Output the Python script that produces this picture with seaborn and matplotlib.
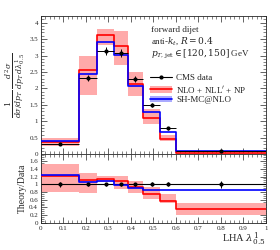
import matplotlib
matplotlib.use('Agg')
import matplotlib.pyplot as plt
import seaborn as sns
import numpy as np
from matplotlib.lines import Line2D
from matplotlib.patches import Patch

# bin edges of LHA lambda^1_0.5
edges = [0.0, 0.17, 0.25, 0.325, 0.385, 0.455, 0.53, 0.60, 1.0]

# CMS data
data = [0.315, 2.32, 3.15, 3.07, 2.28, 1.50, 0.79, 0.105]
data_err = [0.02, 0.10, 0.12, 0.12, 0.10, 0.07, 0.04, 0.01]

# NLO + NLL' + NP with uncertainty band
nlo = [0.385, 2.55, 3.62, 3.30, 2.12, 1.11, 0.45, 0.037]
nlo_lo = [0.25, 1.80, 3.32, 2.72, 1.78, 0.93, 0.40, 0.021]
nlo_hi = [0.48, 2.98, 3.80, 3.75, 2.50, 1.38, 0.60, 0.053]

# SH-MC@NLO
mcnlo = [0.39, 2.45, 3.40, 3.03, 2.08, 1.27, 0.67, 0.090]

RED = '#ff0000'
PINK = '#ffaaaa'
BLUE = '#0000ff'
LW = 1.2

sns.set_style("ticks")
plt.rcParams['font.family'] = ['Liberation Serif', 'DejaVu Serif']
plt.rcParams['mathtext.fontset'] = 'dejavuserif'

edges = np.array(edges)
centers = 0.5 * (edges[:-1] + edges[1:])
half_w = 0.5 * np.diff(edges)
data = np.array(data)


def steps(vals):
    return np.append(vals, vals[-1])


fig = plt.figure(figsize=(2.8, 2.5), dpi=100)
ax = fig.add_axes([0.146, 0.383, 0.804, 0.553])
rax = fig.add_axes([0.146, 0.109, 0.804, 0.274], sharex=ax)

# main panel
ax.fill_between(edges, steps(nlo_lo), steps(nlo_hi), step='post',
                color=PINK, lw=0, zorder=1)
sns.lineplot(x=edges, y=steps(nlo), drawstyle='steps-post', color=RED,
             lw=LW, ax=ax, zorder=2)
sns.lineplot(x=edges, y=steps(mcnlo), drawstyle='steps-post', color=BLUE,
             lw=LW, ax=ax, zorder=3)
ax.errorbar(centers, data, xerr=half_w, yerr=data_err, fmt='o', color='black',
            ms=2, lw=0.7, capsize=0, zorder=4)

ax.set_xlim(0, 1)
ax.set_ylim(0, 4.2)
ax.set_yticks(np.arange(0, 4.01, 0.5))
ax.set_yticklabels(['0', '0.5', '1', '1.5', '2', '2.5', '3', '3.5', '4'])
ax.set_ylabel(r'$\frac{1}{d\sigma/dp_T}\,\frac{d^2\sigma}{dp_T\,d\lambda^1_{0.5}}$',
              fontsize=8, labelpad=2)
ax.tick_params(labelbottom=False)

ax.text(0.49, 0.93, 'forward dijet\nanti-$k_t$, $R = 0.4$\n'
        r'$p_{T,\mathrm{jet}} \in [120, 150]$ GeV',
        transform=ax.transAxes, fontsize=6.5, va='top', ha='left',
        linespacing=1.15)

handles = [
    Line2D([], [], color='black', marker='o', ms=2, lw=0.8),
    (Patch(color=PINK, lw=0), Line2D([], [], color=RED, lw=LW)),
    (Patch(color='#aaaaff', lw=0), Line2D([], [], color=BLUE, lw=LW)),
]
labels = ['CMS data', r"NLO + NLL$'$ + NP", 'SH-MC@NLO']
ax.legend(handles, labels, loc='upper left', bbox_to_anchor=(0.46, 0.62),
          frameon=False, fontsize=6.5, handlelength=2.4, handletextpad=0.5,
          borderpad=0.1, labelspacing=0.15)

# ratio panel
rax.fill_between(edges, steps(np.array(nlo_lo) / data),
                 steps(np.array(nlo_hi) / data), step='post',
                 color=PINK, lw=0, zorder=1)
rax.axhline(1.0, color='black', lw=0.8, zorder=2)
sns.lineplot(x=edges, y=steps(np.array(nlo) / data), drawstyle='steps-post',
             color=RED, lw=LW, ax=rax, zorder=3)
sns.lineplot(x=edges, y=steps(np.array(mcnlo) / data), drawstyle='steps-post',
             color=BLUE, lw=LW, ax=rax, zorder=4)
rax.errorbar(centers, np.ones_like(data), yerr=np.array(data_err) / data,
             fmt='o', color='black', ms=2, lw=0.7, capsize=0, zorder=5)

rax.set_ylim(0, 1.78)
rax.set_yticks(np.arange(0, 1.61, 0.2))
rax.set_yticklabels(['0', '0.2', '0.4', '0.6', '0.8', '1', '1.2', '1.4', '1.6'])
rax.set_xticks(np.arange(0, 1.01, 0.1))
rax.set_xticklabels(['0', '0.1', '0.2', '0.3', '0.4', '0.5', '0.6', '0.7',
                     '0.8', '0.9', '1'])
rax.set_ylabel('Theory/Data', fontsize=7, labelpad=2)
rax.set_xlabel('')
fig.text(0.95, 0.008, r'LHA $\lambda^1_{0.5}$', fontsize=7.5,
         ha='right', va='bottom')

for a in (ax, rax):
    a.minorticks_on()
    a.tick_params(which='both', direction='in', top=True, right=True,
                  labelsize=5, pad=2)
    a.tick_params(which='major', length=4, width=0.5)
    a.tick_params(which='minor', length=2, width=0.4)
    for s in a.spines.values():
        s.set_linewidth(0.6)

rax.xaxis.set_minor_locator(matplotlib.ticker.MultipleLocator(0.02))
ax.yaxis.set_minor_locator(matplotlib.ticker.MultipleLocator(0.1))
rax.yaxis.set_minor_locator(matplotlib.ticker.MultipleLocator(0.05))

fig.savefig('out.png', dpi=100)
plt.close(fig)
